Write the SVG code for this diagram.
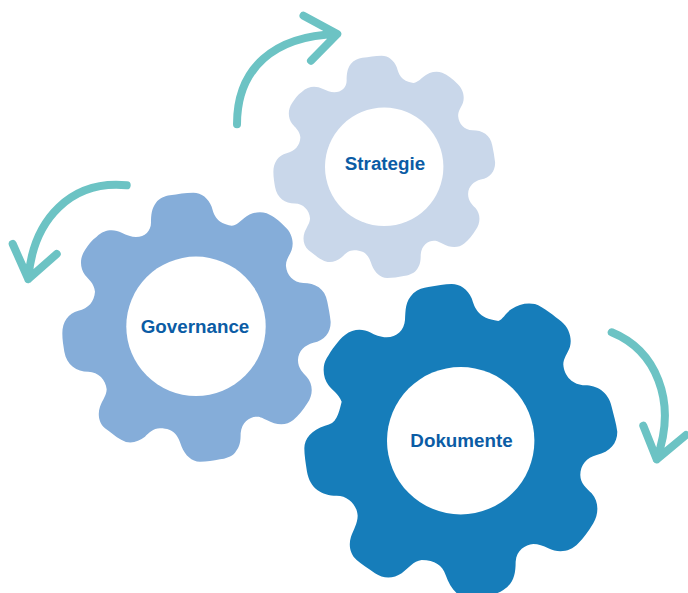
<svg xmlns="http://www.w3.org/2000/svg" width="688" height="593" viewBox="0 0 688 593">
<style>
.hole{fill:#fff}
.lbl{font-family:"Liberation Sans",Arial,sans-serif;font-weight:700;font-size:18.800px;fill:#0b5ca5;text-anchor:middle}
.arrow{fill:none;stroke:#6cc3c4;stroke-width:8;stroke-linecap:round;stroke-linejoin:round}
</style>
<defs>
<path id="gear" d="M258 171C285 171 303 152 303 128C303 105 305 85 318 68C328 55 345 48 360 46C385 42 405 38 430 38C455 38 475 55 485 80C492 105 500 130 545 137C558 137 570 125 582 115C600 100 625 92 650 100C670 108 690 125 705 140C725 158 733 185 725 210C718 228 707 240 708 258C710 285 730 308 760 309C795 309 825 325 832 365C836 385 840 405 842 425C843 455 825 482 790 488C765 495 745 512 744 540C744 565 760 580 770 590C790 612 790 645 772 670C760 690 745 708 730 720C710 737 680 737 650 720C635 712 628 710 620 710C600 710 575 725 572 760C572 785 570 800 555 818C545 830 525 836 510 838C490 842 470 845 450 845C425 845 405 825 395 800C385 770 375 745 330 745C310 745 295 760 285 770C265 785 240 795 215 780C195 770 180 755 165 745C145 728 143 700 150 680C158 660 170 645 170 628C168 600 145 575 115 575C80 575 50 555 43 515C40 495 37 480 37 460C37 425 55 400 85 392C115 385 133 365 135 335C133 310 115 298 105 285C90 265 88 235 105 210C115 195 125 180 140 170C165 145 195 148 215 158C230 165 245 171 258 171Z"/>
</defs>
<g id="connectors">
<path class="arrow" d="M237 124.300C237 68 274 36 337 34M303.500 15.700L337.300 34L311 60.700"/>
<path class="arrow" d="M126.700 185.300C72 180 33 218 28.300 279M12.700 244L28.300 279L56.700 254"/>
<path class="arrow" d="M611.700 332.300C655 350 678 400 656.700 459.300M643.300 425.700L656.700 459.300L686 435"/>
</g>
<g id="strategie">
<use href="#gear" fill="#c9d7ea" transform="translate(263.200 45.200) scale(.2754)"/>
<circle class="hole" cx="384.200" cy="166.800" r="59.200"/>
<text class="lbl" x="385" y="169.500">Strategie</text>
</g>
<g id="governance">
<use href="#gear" fill="#85add9" transform="translate(50 180) scale(.3333)"/>
<circle class="hole" cx="196" cy="326.300" r="69.700"/>
<text class="lbl" x="195" y="332.500">Governance</text>
</g>
<g id="dokumente">
<path fill="#167dba" transform="translate(295 275) scale(.3333)" d="M275 187C305 187 328 165 330 135C332 105 330 80 355 55C370 42 385 38 400 36C425 32 450 27 470 27C495 27 518 42 530 70C540 100 548 130 610 138C625 132 632 113 650 102C670 88 695 82 720 87C745 95 780 125 800 140C822 158 832 190 825 215C818 235 805 250 805 268C807 305 835 331 870 331C905 331 940 350 950 395C956 420 964 445 967 470C967 505 945 530 905 540C875 548 856 570 856 600C856 625 875 640 890 655C912 680 912 715 895 745C880 770 865 790 850 805C825 832 790 835 760 820C745 812 730 807 715 807C690 810 665 825 662 860C662 900 655 925 625 945C605 958 585 962 560 965L500 965C480 955 462 930 452 900C442 870 420 856 380 855C355 858 340 880 320 895C295 912 265 912 240 895C220 880 200 868 185 855C165 838 160 810 168 785C175 765 188 745 188 722C186 690 160 662 125 662C80 662 45 640 36 590C32 565 28 540 28 520C28 490 50 465 90 452C125 445 130 420 140 380C130 355 110 345 100 330C85 310 80 275 95 250C110 225 130 195 150 180C175 160 205 162 225 172C240 180 255 187 275 187Z"/>
<circle class="hole" cx="460.700" cy="440.700" r="73.700"/>
<text class="lbl" x="461.500" y="446.500">Dokumente</text>
</g>
</svg>
